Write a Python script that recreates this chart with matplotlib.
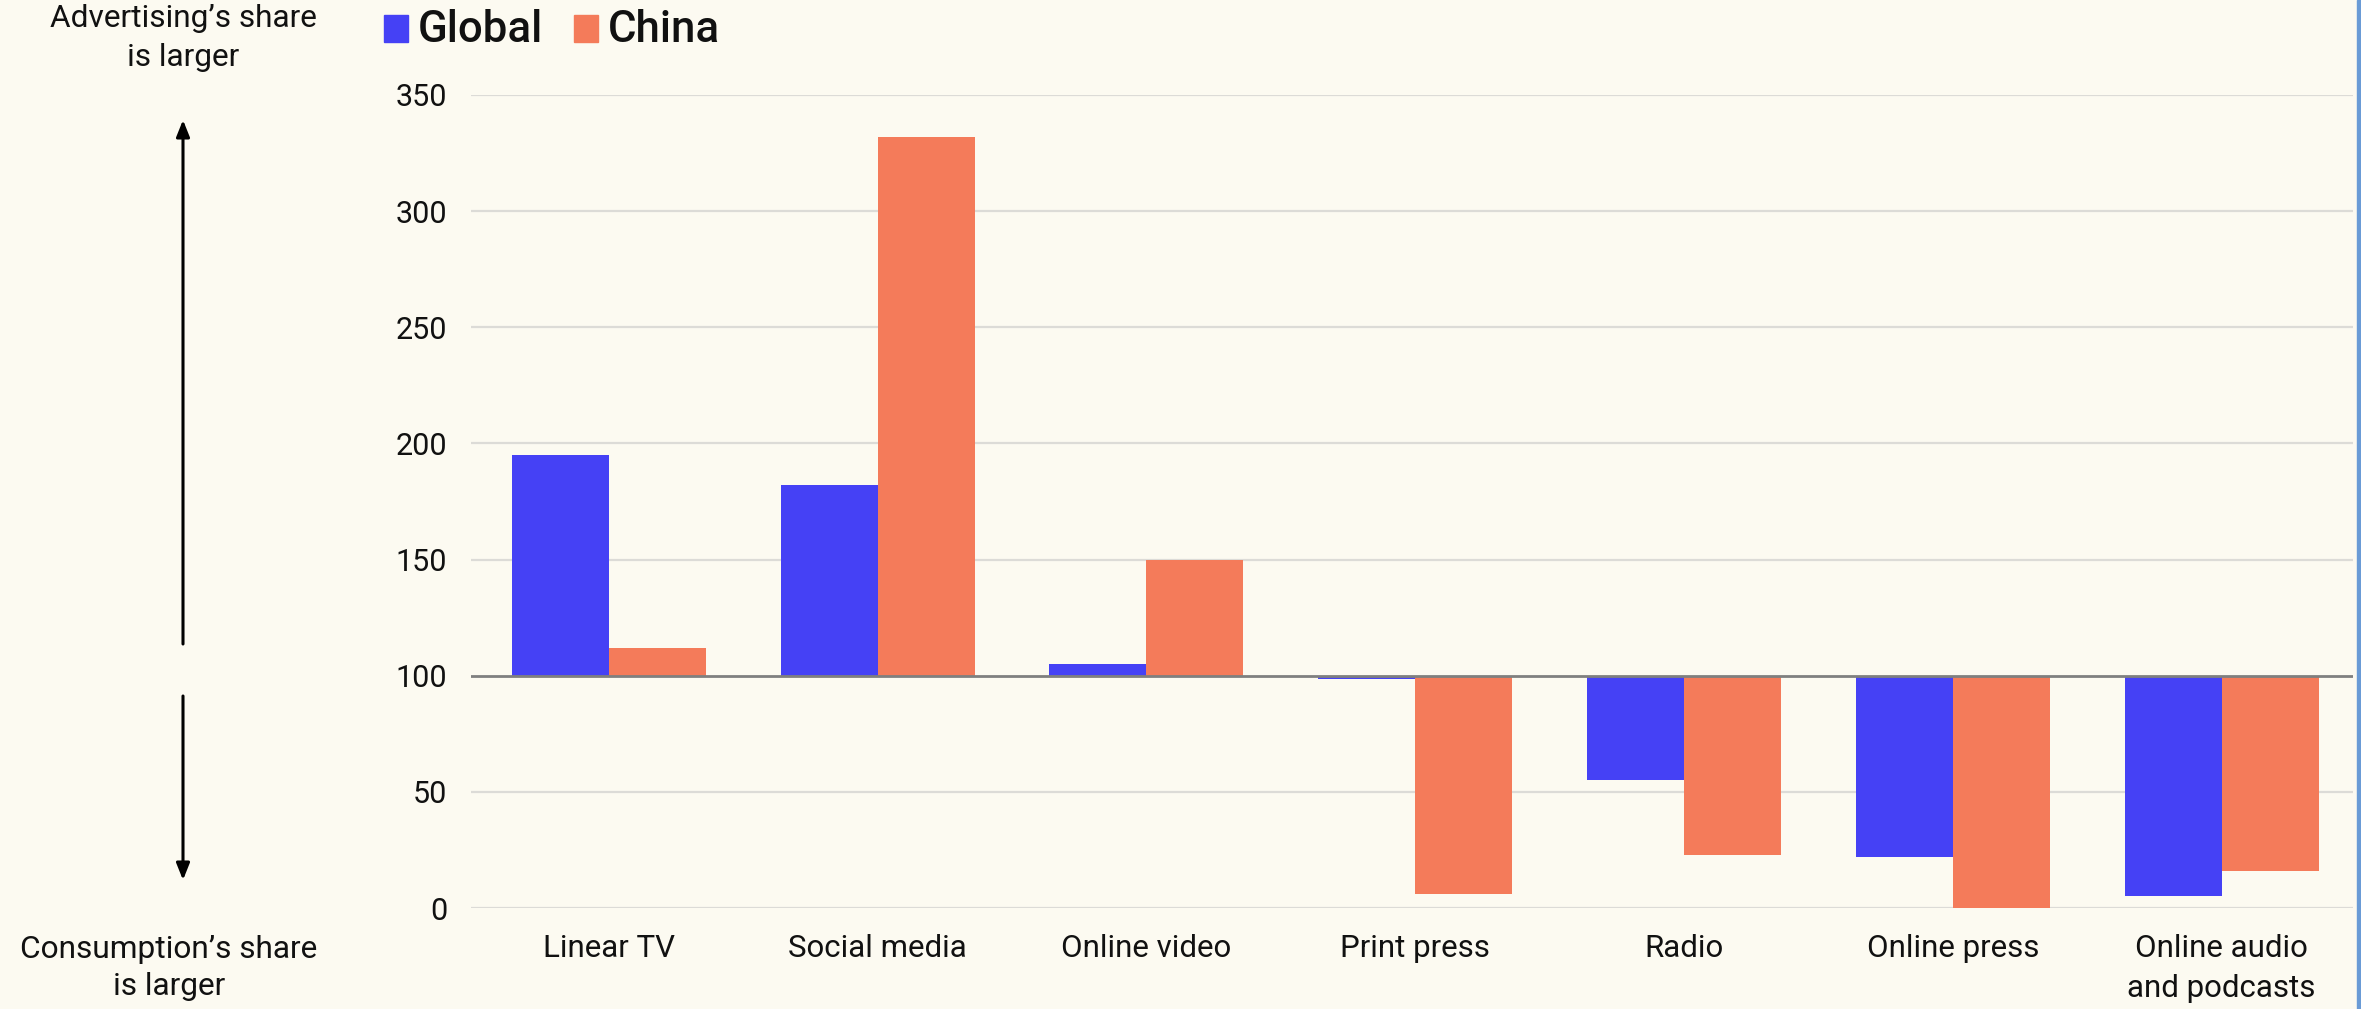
import matplotlib
matplotlib.use("Agg")
import matplotlib.pyplot as plt
from matplotlib.patches import Rectangle, FancyArrowPatch
import numpy as np

plt.rcParams['font.family'] = ['Roboto', 'DejaVu Sans']

# Index: 100 = equal share of advertising spend and media consumption
categories = ["Linear TV", "Social media", "Online video", "Print press",
              "Radio", "Online press", "Online audio\nand podcasts"]
global_vals = [195, 182, 105, 98.5, 55, 22, 5]
china_vals = [112, 332, 150, 6, 23, 0, 16]
series_names = ["Global", "China"]
yticks = [0, 50, 100, 150, 200, 250, 300, 350]

BLUE = "#4541F5"
ORANGE = "#F47B5A"
BG = "#FCFAF1"
BASE = 100

W, H = 2361, 1009
fig = plt.figure(figsize=(W / 100, H / 100), dpi=100, facecolor=BG)
ax = fig.add_axes([471 / W, 1 - 908 / H, (2353 - 471) / W, (908 - 95) / H])
ax.set_facecolor(BG)

x = np.arange(len(categories))
bw = 0.361
g = np.array(global_vals, dtype=float)
c = np.array(china_vals, dtype=float)
ax.bar(x - bw / 2, g - BASE, bw, bottom=BASE, color=BLUE, zorder=2,
       clip_on=False, label=series_names[0])
ax.bar(x + bw / 2, c - BASE, bw, bottom=BASE, color=ORANGE, zorder=2,
       clip_on=False, label=series_names[1])

ax.set_xlim(-0.513, 6.489)
ax.set_ylim(0, 350)
ax.set_yticks(yticks)
ax.set_yticklabels([str(t) for t in yticks], fontsize=22)
ax.set_xticks(x)
ax.set_xticklabels(categories, linespacing=1.45, fontsize=22.5)
ax.tick_params(axis='both', length=0, colors="#111111")
ax.tick_params(axis='y', pad=17)
ax.tick_params(axis='x', pad=19)
for lab in ax.get_xticklabels():
    lab.set_verticalalignment('top')

for t in yticks:
    if t != BASE:
        ax.axhline(t, color="#DCDBD7", lw=1.6, zorder=1)
ax.axhline(BASE, color="#7F7F7F", lw=2.0, zorder=3)
for s in ax.spines.values():
    s.set_visible(False)

# legend built from the series colours
def fx(px):
    return px / W

def fy(py):
    return 1 - py / H

for (xs, xt), col, name in zip([(384, 418), (574, 608)], [BLUE, ORANGE], series_names):
    fig.patches.append(Rectangle((fx(xs), fy(42)), fx(24), 27 / H,
                                 transform=fig.transFigure, color=col))
    fig.text(fx(xt), fy(30), name, fontsize=31.5, fontweight='medium',
             ha='left', va='center', color="#111111")

# direction annotations on the left
fig.text(fx(183), fy(38), "Advertising\u2019s share\nis larger", fontsize=22.8,
         ha='center', va='center', linespacing=1.45, color="#111111")
fig.text(fx(169), fy(968), "Consumption\u2019s share\nis larger", fontsize=22.8,
         ha='center', va='center', linespacing=1.35, color="#111111")
for y0, y1 in [(644, 120), (696, 880)]:
    fig.patches.append(FancyArrowPatch((fx(183), fy(y0)), (fx(183), fy(y1)),
                                       transform=fig.transFigure,
                                       arrowstyle='-|>,head_length=10,head_width=4',
                                       lw=2.2, color="black", shrinkA=0, shrinkB=0))

# frame edge on the right
fig.patches.append(Rectangle((fx(2357), 0), fx(4), 1, transform=fig.transFigure,
                             color="#6A9BD6"))

fig.savefig("out.png", dpi=100, facecolor=BG)
